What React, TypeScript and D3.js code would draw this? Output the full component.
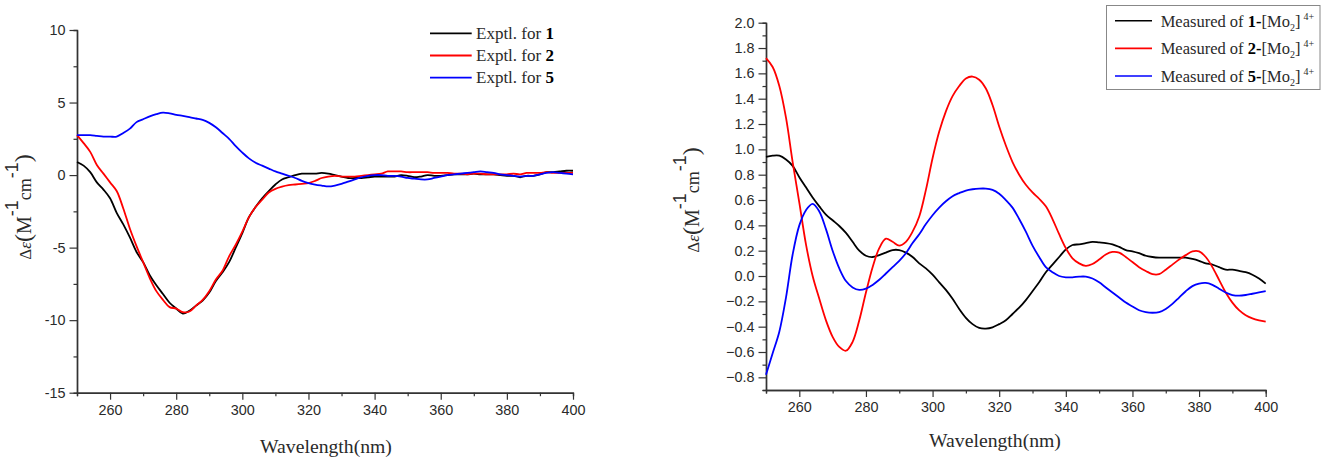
import React, { useEffect, useRef } from 'react';
import * as d3 from 'd3';

const WIDTH = 1325;
const HEIGHT = 463;

// shared wavelength grid, 2 nm steps
const wavelengths = d3.range(250, 402, 2);

const leftExptl1 = [
  0.9, 0.65, 0.2, -0.5, -1.0, -1.6, -2.6, -3.4, -4.3, -5.3, -6.0, -6.9, -7.6, -8.2, -8.8, -9.2,
  -9.55, -9.35, -9.0, -8.65, -8.1, -7.3, -6.7, -6.0, -5.0, -4.0, -2.9, -2.2, -1.6, -1.1, -0.65, -0.3,
  -0.15, 0, 0.1, 0.1, 0.1, 0.15, 0.1, 0, -0.1, -0.2, -0.2, -0.2, -0.15, -0.1, -0.1, -0.1,
  -0.1, 0, -0.05, -0.15, -0.1, 0, -0.05, -0.05, 0, 0.05, 0.05, 0.05, 0.1, 0.05, 0.05, 0.05,
  0, -0.05, -0.05, -0.15, -0.05, -0.05, 0.05, 0.2, 0.2, 0.25, 0.3, 0.3
];
const leftExptl2 = [
  2.75, 2.2, 1.6, 0.7, 0.1, -0.5, -1.1, -2.3, -3.7, -4.9, -6.0, -7.1, -8.0, -8.6, -9.1, -9.2,
  -9.45, -9.4, -9.0, -8.6, -8.0, -7.2, -6.6, -5.6, -4.8, -3.9, -2.9, -2.2, -1.7, -1.2, -0.95, -0.8,
  -0.7, -0.65, -0.6, -0.55, -0.4, -0.2, -0.1, -0.05, -0.1, -0.1, -0.1, -0.05, 0, 0.05, 0.1, 0.25,
  0.25, 0.25, 0.2, 0.2, 0.2, 0.2, 0.15, 0.15, 0.15, 0.1, 0.1, 0.05, 0.1, 0.1, 0.05, 0.05,
  0.05, 0.05, 0.1, 0.05, 0.15, 0.15, 0.15, 0.2, 0.15, 0.15, 0.15, 0.15
];
const leftExptl5 = [
  2.75, 2.75, 2.75, 2.7, 2.65, 2.65, 2.65, 2.9, 3.2, 3.65, 3.85, 4.05, 4.2, 4.3, 4.25, 4.15,
  4.08, 4.0, 3.9, 3.8, 3.6, 3.3, 2.9, 2.5, 2.0, 1.55, 1.15, 0.85, 0.65, 0.45, 0.25, 0.1,
  -0.05, -0.2, -0.4, -0.55, -0.65, -0.72, -0.78, -0.72, -0.6, -0.45, -0.3, -0.15, -0.05, 0, 0, -0.05,
  -0.05, -0.1, -0.2, -0.25, -0.3, -0.3, -0.2, -0.1, 0, 0.05, 0.1, 0.15, 0.2, 0.25, 0.2, 0.15,
  0.05, 0, -0.05, -0.1, -0.05, -0.05, 0.05, 0.15, 0.2, 0.15, 0.1, 0.05
];

const rightMeasured1 = [
  0.94, 0.95, 0.95, 0.92, 0.87, 0.78, 0.7, 0.62, 0.55, 0.485, 0.44, 0.395, 0.34, 0.27, 0.2, 0.16,
  0.15, 0.165, 0.185, 0.205, 0.205, 0.185, 0.15, 0.1, 0.06, 0.01, -0.05, -0.11, -0.18, -0.26, -0.33, -0.38,
  -0.41, -0.415, -0.405, -0.38, -0.35, -0.3, -0.25, -0.19, -0.12, -0.05, 0.03, 0.09, 0.15, 0.21, 0.245, 0.25,
  0.26, 0.27, 0.265, 0.26, 0.25, 0.23, 0.205, 0.195, 0.18, 0.16, 0.15, 0.145, 0.145, 0.145, 0.145, 0.145,
  0.135, 0.12, 0.1, 0.09, 0.07, 0.05, 0.05, 0.04, 0.03, 0.01, -0.02, -0.06
];
const rightMeasured2 = [
  1.72, 1.65, 1.5, 1.25, 0.9, 0.58, 0.25, 0, -0.18, -0.35, -0.48, -0.56, -0.59, -0.52, -0.35, -0.13,
  0.07, 0.22, 0.295, 0.27, 0.24, 0.27, 0.35, 0.47, 0.68, 0.93, 1.14, 1.3, 1.42, 1.5, 1.56, 1.575,
  1.55, 1.48, 1.35, 1.18, 1.03, 0.9, 0.8, 0.72, 0.66, 0.61, 0.55, 0.45, 0.33, 0.22, 0.14, 0.1,
  0.08, 0.095, 0.13, 0.17, 0.19, 0.185, 0.15, 0.11, 0.07, 0.04, 0.015, 0.015, 0.05, 0.09, 0.13, 0.165,
  0.195, 0.195, 0.15, 0.07, -0.03, -0.13, -0.21, -0.27, -0.31, -0.335, -0.35, -0.36
];
const rightMeasured5 = [
  -0.78, -0.61, -0.44, -0.17, 0.17, 0.4, 0.52, 0.57, 0.51, 0.37, 0.2, 0.06, -0.04, -0.09, -0.11, -0.1,
  -0.07, -0.03, 0.02, 0.07, 0.12, 0.18, 0.26, 0.33, 0.41, 0.48, 0.54, 0.59, 0.63, 0.655, 0.675, 0.685,
  0.69, 0.69, 0.68, 0.65, 0.6, 0.54, 0.45, 0.35, 0.24, 0.15, 0.07, 0.03, 0, -0.01, -0.01, -0.005,
  -0.005, -0.02, -0.05, -0.09, -0.13, -0.17, -0.21, -0.24, -0.27, -0.285, -0.29, -0.285, -0.26, -0.22, -0.17, -0.12,
  -0.08, -0.06, -0.055, -0.07, -0.1, -0.13, -0.15, -0.155, -0.15, -0.14, -0.13, -0.12
];

const xMajor = [260, 280, 300, 320, 340, 360, 380, 400];
const xMinor = [250, 270, 290, 310, 330, 350, 370, 390];
const leftYMajor = [-15, -10, -5, 0, 5, 10];
const leftYMinor = [-12.5, -7.5, -2.5, 2.5, 7.5];
const rightYMajor = d3.range(-8, 22, 2).map(d => d / 10);
const rightYMinor = d3.range(-9, 21, 2).map(d => d / 10);

const seriesColors = ['#000000', '#ff0000', '#0000ff'];
const seriesNames = ['1', '2', '5'];

const SERIF = '"Liberation Serif", serif';
const SANS = '"Liberation Sans", sans-serif';
const TEXT = '#2a2a2a';

type Svg = d3.Selection<SVGSVGElement, unknown, null, undefined>;

type Panel = {
  left: number;
  right: number;
  top: number;
  bottom: number;
  yDomain: [number, number];
  yMajor: number[];
  yMinor: number[];
  yFormat: (d: number) => string;
  series: number[][];
};

function drawPanel(svg: Svg, p: Panel) {
  const x = d3.scaleLinear().domain([250, 400]).range([p.left, p.right]);
  const y = d3.scaleLinear().domain(p.yDomain).range([p.bottom, p.top]);

  const style = (g: d3.Selection<SVGGElement, unknown, null, undefined>) => {
    g.selectAll('.domain').attr('stroke', '#333').attr('stroke-width', 1.4);
    g.selectAll('.tick line').attr('stroke', '#333').attr('stroke-width', 1.2);
    g.selectAll('.tick text')
      .attr('font-family', SANS)
      .attr('font-size', 14.4)
      .attr('fill', TEXT);
  };

  // minor ticks first, the major axis carries the labels
  svg.append('g')
    .attr('transform', `translate(0,${p.bottom})`)
    .call(d3.axisBottom(x).tickValues(xMinor).tickSize(3.5).tickFormat(() => ''))
    .call(style);
  svg.append('g')
    .attr('transform', `translate(0,${p.bottom})`)
    .call(d3.axisBottom(x).tickValues(xMajor).tickSize(7).tickSizeOuter(0).tickPadding(5).tickFormat(d => String(d)))
    .call(style);
  svg.append('g')
    .attr('transform', `translate(${p.left},0)`)
    .call(d3.axisLeft(y).tickValues(p.yMinor).tickSize(3.5).tickFormat(() => ''))
    .call(style);
  svg.append('g')
    .attr('transform', `translate(${p.left},0)`)
    .call(d3.axisLeft(y).tickValues(p.yMajor).tickSize(7.5).tickSizeOuter(0).tickPadding(4).tickFormat(d => p.yFormat(d as number)))
    .call(style);

  const line = d3.line<number>()
    .x((_, i) => x(wavelengths[i]))
    .y(d => y(d))
    .curve(d3.curveCatmullRom.alpha(0.5));

  p.series.forEach((values, i) => {
    svg.append('path')
      .attr('d', line(values))
      .attr('fill', 'none')
      .attr('stroke', seriesColors[i])
      .attr('stroke-width', 1.8)
      .attr('stroke-linejoin', 'round');
  });
}

function yTitle(svg: Svg, cx: number, cy: number) {
  const t = svg.append('text')
    .attr('transform', `translate(${cx},${cy}) rotate(-90)`)
    .attr('text-anchor', 'middle')
    .attr('font-family', SERIF)
    .attr('font-size', 17)
    .attr('fill', TEXT);
  t.append('tspan').text('\u0394');
  t.append('tspan').attr('font-style', 'italic').text('\u03b5');
  t.append('tspan').attr('font-size', 24).text('(');
  t.append('tspan').attr('font-size', 20).text('M');
  t.append('tspan').attr('font-size', 18).attr('font-family', SANS).attr('dy', -13).text('-1');
  t.append('tspan').attr('font-size', 18).attr('dy', 13).text('cm');
  t.append('tspan').attr('font-size', 18).attr('font-family', SANS).attr('dy', -13).text('-1');
  t.append('tspan').attr('font-size', 24).attr('dy', 13).text(')');
}

function xTitle(svg: Svg, cx: number, by: number) {
  svg.append('text')
    .attr('x', cx)
    .attr('y', by)
    .attr('text-anchor', 'middle')
    .attr('font-family', SERIF)
    .attr('font-size', 19.7)
    .attr('fill', TEXT)
    .text('Wavelength(nm)');
}

export default function App() {
  const svgRef = useRef<SVGSVGElement>(null);

  useEffect(() => {
    if (!svgRef.current) return;
    const svg = d3.select(svgRef.current);
    svg.selectAll('*').remove();

    drawPanel(svg, {
      left: 77,
      right: 573,
      top: 30,
      bottom: 392.7,
      yDomain: [-15, 10],
      yMajor: leftYMajor,
      yMinor: leftYMinor,
      yFormat: d => String(d),
      series: [leftExptl1, leftExptl2, leftExptl5]
    });
    drawPanel(svg, {
      left: 766,
      right: 1265.7,
      top: 22.7,
      bottom: 390,
      yDomain: [-0.9, 2.0],
      yMajor: rightYMajor,
      yMinor: rightYMinor,
      yFormat: d => d3.format('.1f')(d),
      series: [rightMeasured1, rightMeasured2, rightMeasured5]
    });

    yTitle(svg, 31, 207);
    yTitle(svg, 699, 200);
    xTitle(svg, 326, 453);
    xTitle(svg, 995, 447);

    // left legend
    seriesNames.forEach((name, i) => {
      const ly = 33.3 + i * 22.2;
      svg.append('line')
        .attr('x1', 430).attr('x2', 471.7).attr('y1', ly).attr('y2', ly)
        .attr('stroke', seriesColors[i]).attr('stroke-width', 1.8);
      const t = svg.append('text')
        .attr('x', 476).attr('y', ly + 5.7)
        .attr('font-family', SERIF).attr('font-size', 17).attr('fill', TEXT);
      t.append('tspan').text('Exptl. for ');
      t.append('tspan').attr('font-weight', 'bold').attr('fill', '#000').text(name);
    });

    // right legend
    svg.append('rect')
      .attr('x', 1106.5).attr('y', 5.5).attr('width', 213.5).attr('height', 84)
      .attr('fill', '#fff').attr('stroke', '#888').attr('stroke-width', 1);
    seriesNames.forEach((name, i) => {
      const ly = 20.7 + i * 27.65;
      svg.append('line')
        .attr('x1', 1115).attr('x2', 1152).attr('y1', ly).attr('y2', ly)
        .attr('stroke', seriesColors[i]).attr('stroke-width', 1.6);
      const t = svg.append('text')
        .attr('x', 1160.7).attr('y', ly + 6)
        .attr('font-family', SERIF).attr('font-size', 16.5).attr('fill', TEXT);
      t.append('tspan').text('Measured of ');
      t.append('tspan').attr('font-weight', 'bold').attr('fill', '#000').text(name + '-');
      t.append('tspan').text('[Mo');
      t.append('tspan').attr('font-size', 10).attr('dy', 4).text('2');
      t.append('tspan').attr('dy', -4).text(']');
      t.append('tspan').attr('font-size', 10).attr('dy', -7).attr('dx', 3).text('4+');
    });
  }, []);

  return (
    <svg
      ref={svgRef}
      width={WIDTH}
      height={HEIGHT}
      style={{ position: 'absolute', left: 0, top: 0, background: '#fff', display: 'block' }}
    />
  );
}
